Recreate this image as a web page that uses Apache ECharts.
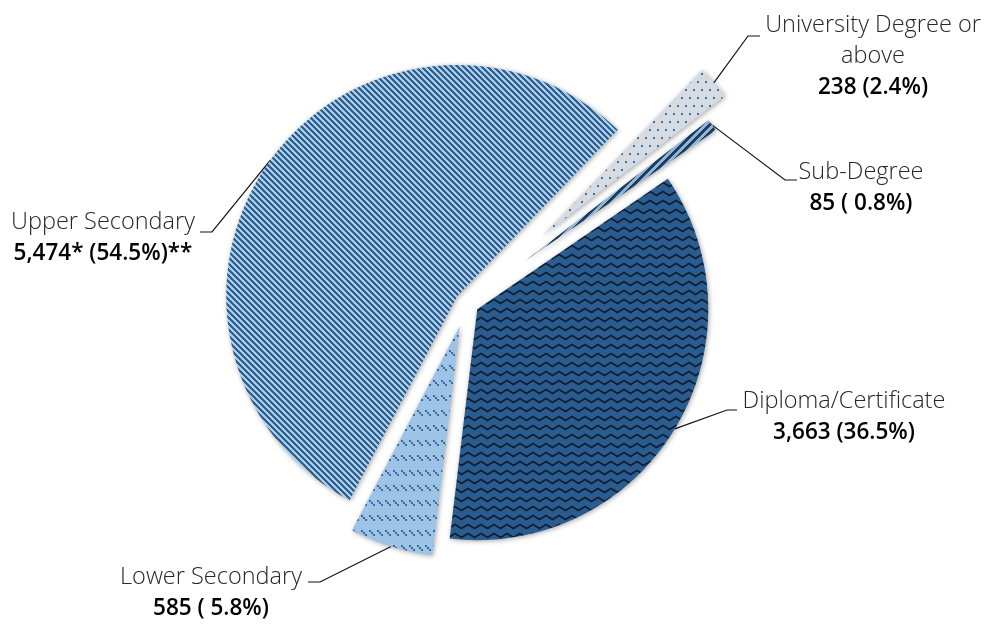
<!DOCTYPE html>
<html>
<head>
<meta charset="utf-8">
<script src="https://cdn.jsdelivr.net/npm/echarts@6/dist/echarts.min.js"></script>
<style>
  html, body { margin: 0; background: #fff; }
  #chart { width: 992px; height: 624px; }
</style>
</head>
<body>
<div id="chart"></div>
<script>
// data
const categories = ['University Degree or\nabove', 'Sub-Degree', 'Diploma/Certificate', 'Lower Secondary', 'Upper Secondary'];
const counts = [238, 85, 3663, 585, 5474];
const valueLabels = ['238 (2.4%)', '85 ( 0.8%)', '3,663 (36.5%)', '585 ( 5.8%)', '5,474* (54.5%)**'];

// layout / style
const cx = 467, cy = 303, radius = 231, startAngle = 46;
const explode = [100, 72, 12, 24, 12];
const labelBoxes = [
  { x: 873, y: 10, elbow: [748, 36], end: [760, 36] },
  { x: 861, y: 157, elbow: [785, 180], end: [797, 180] },
  { x: 844, y: 386, elbow: [727, 410], end: [737, 410] },
  { x: 211, y: 562, elbow: [320, 582], end: [308, 582] },
  { x: 103, y: 207, elbow: [212, 232], end: [200, 232] }
];
const FONT = '"Open Sans", sans-serif';

function tile(w, h, draw) {
  const c = document.createElement('canvas');
  c.width = w; c.height = h;
  draw(c.getContext('2d'), w, h);
  return { image: c, repeat: 'repeat' };
}

function stripes(w, h, test, dark, light) {
  return tile(w, h, (g) => {
    const img = g.createImageData(w, h);
    for (let y = 0; y < h; y++) for (let x = 0; x < w; x++) {
      const c = test(x, y) ? dark : light;
      const k = (y * w + x) * 4;
      img.data[k] = c[0]; img.data[k + 1] = c[1]; img.data[k + 2] = c[2]; img.data[k + 3] = 255;
    }
    g.putImageData(img, 0, 0);
  });
}

// Excel-like pattern fills
const fills = [
  // dotted light grey
  tile(8, 16, (g, w, h) => {
    g.fillStyle = '#d4dbe3'; g.fillRect(0, 0, w, h);
    g.fillStyle = '#4d6f93';
    g.fillRect(1, 1, 2, 2); g.fillRect(5, 9, 2, 2);
  }),
  // wide upward diagonal
  stripes(8, 8, (x, y) => ((x + y) % 8) < 4, [31, 61, 94], [143, 180, 216]),
  // zigzag on dark blue
  tile(13, 9, (g) => {
    g.fillStyle = '#2b5c8f'; g.fillRect(0, 0, 13, 9);
    g.strokeStyle = '#0d1e33'; g.lineWidth = 1.8;
    g.beginPath();
    g.moveTo(-6.5, 6.5); g.lineTo(0, 2.5); g.lineTo(6.5, 6.5); g.lineTo(13, 2.5); g.lineTo(19.5, 6.5);
    g.stroke();
  }),
  // dashed downward diagonal
  tile(8, 15, (g, w, h) => {
    g.fillStyle = '#9dc3e6'; g.fillRect(0, 0, w, h);
    g.fillStyle = '#3a6a98';
    g.fillRect(1, 5, 2, 2); g.fillRect(3, 7, 2, 2); g.fillRect(5, 9, 2, 2);
  }),
  // narrow downward diagonal
  stripes(6, 6, (x, y) => (((x - y) % 6) + 6) % 6 < 3, [46, 95, 142], [170, 205, 234])
];

const total = counts.reduce((a, b) => a + b, 0);
const anchors = [];
let acc = 0;
const series = counts.map((v, i) => {
  const mid = (startAngle - (acc + v / 2) / total * 360) * Math.PI / 180;
  acc += v;
  const center = [cx + explode[i] * Math.cos(mid), cy - explode[i] * Math.sin(mid)];
  anchors.push([center[0] + radius * Math.cos(mid), center[1] - radius * Math.sin(mid)]);
  return {
    type: 'pie',
    silent: true,
    startAngle: startAngle,
    radius: radius,
    center: center,
    avoidLabelOverlap: false,
    data: counts.map((c, j) => ({
      name: categories[j],
      value: c,
      itemStyle: j === i
        ? { color: fills[j], borderWidth: 0, shadowBlur: 5, shadowColor: 'rgba(0,0,0,0.35)', shadowOffsetX: 1, shadowOffsetY: 1 }
        : { color: 'rgba(0,0,0,0)', borderWidth: 0 },
      label: { show: j === i },
      labelLine: { show: j === i }
    })),
    label: {
      position: 'outside',
      formatter: p => p.name.split('\n').map(s => '{n|' + s + '}').join('\n') + '\n{v|' + valueLabels[p.dataIndex] + '}',
      rich: {
        n: { fontFamily: FONT, fontSize: 23.5, fontWeight: 300, color: '#262626', lineHeight: 31, align: 'center' },
        v: { fontFamily: FONT, fontSize: 22.5, fontWeight: 600, color: '#000', lineHeight: 31, align: 'center' }
      }
    },
    labelLine: { show: true, lineStyle: { color: '#111', width: 1.2 } },
    labelLayout: params => {
      const j = params.dataIndex;
      if (j !== params.seriesIndex) return {};
      const b = labelBoxes[j];
      return {
        x: b.x, y: b.y, align: 'center', verticalAlign: 'top',
        labelLinePoints: [anchors[j], b.elbow, b.end]
      };
    }
  };
});

const chart = echarts.init(document.getElementById('chart'));
chart.setOption({ animation: false, series: series });
</script>
</body>
</html>
